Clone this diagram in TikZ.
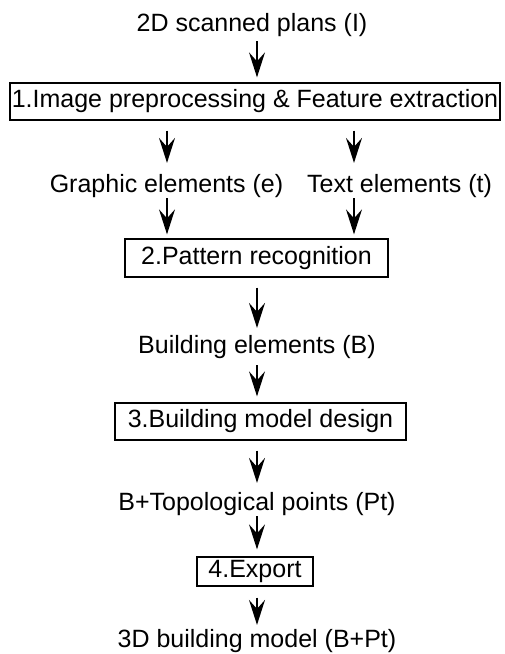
\documentclass[tikz,border=0pt]{standalone}
\usepackage{fontspec}
\setmainfont{Liberation Sans}
\usetikzlibrary{arrows.meta}
\begin{document}
\begin{tikzpicture}[x=1pt,y=-1pt,
  font=\fontsize{25}{30}\selectfont,
  lbl/.style={inner sep=0pt, text height=17.9pt, text depth=5pt, anchor=base},
  boxnode/.style={draw, line width=1.3pt, inner sep=0pt, text height=17.9pt, text depth=5pt},
  arr/.style={line width=1.5pt, -{Stealth[length=25pt,width=16pt,inset=9pt]}}]
\useasboundingbox (0,0) rectangle (504,654);

\node[lbl] (title) at (252,31) {2D scanned plans (I)};
\node[boxnode, minimum width=490pt, minimum height=37pt] (b1) at (255,101.5) {1.Image preprocessing \& Feature extraction};
\node[lbl] (ge) at (166.5,192) {Graphic elements (e)};
\node[lbl] (te) at (399.5,192) {Text elements (t)};
\node[boxnode, minimum width=263pt, minimum height=38pt] (b2) at (256.5,258) {2.Pattern recognition};
\node[lbl] (be) at (257,353) {Building elements (B)};
\node[boxnode, minimum width=291pt, minimum height=37pt] (b3) at (260.5,421.5) {3.Building model design};
\node[lbl] (tp) at (257,510) {B+Topological points (Pt)};
\node[boxnode, minimum width=116pt, minimum height=29pt] (b4) at (255,571.5) {4.Export};
\node[lbl] (md) at (257,647) {3D building model (B+Pt)};

\coordinate (xm) at (257,0);
\coordinate (xl) at (167,0);
\coordinate (xr) at (354,0);

\draw[arr, shorten <=5pt, shorten >=5pt] (title.south -| xm) -- (b1.north -| xm);
\draw[arr, shorten <=10pt, shorten >=11pt] (b1.south -| xl) -- (ge.north -| xl);
\draw[arr, shorten <=10pt, shorten >=11pt] (b1.south -| xr) -- (te.north -| xr);
\draw[arr, shorten <=1pt, shorten >=4pt] (ge.south -| xl) -- (b2.north -| xl);
\draw[arr, shorten <=1pt, shorten >=4pt] (te.south -| xr) -- (b2.north -| xr);
\draw[arr, shorten <=10pt, shorten >=7pt] (b2.south -| xm) -- (be.north -| xm);
\draw[arr, shorten <=7pt, shorten >=6pt] (be.south -| xm) -- (b3.north -| xm);
\draw[arr, shorten <=10pt, shorten >=9pt] (b3.south -| xm) -- (tp.north -| xm);
\draw[arr, shorten <=1pt, shorten >=7pt] (tp.south -| xm) -- (b4.north -| xm);
\draw[arr, shorten <=11pt, shorten >=4pt] (b4.south -| xm) -- (md.north -| xm);
\end{tikzpicture}
\end{document}
